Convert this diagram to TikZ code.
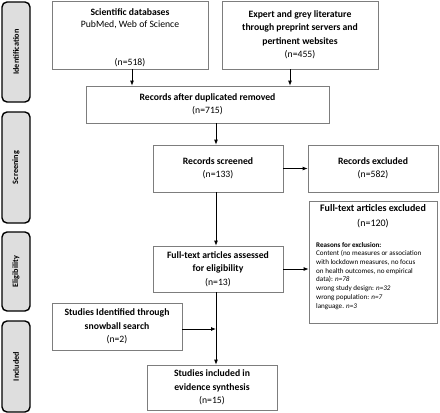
\documentclass[tikz,border=0pt]{standalone}
\usepackage{fontspec}
\setmainfont{Carlito}
\usetikzlibrary{arrows.meta,calc}
\definecolor{boxgray}{RGB}{125,125,125}
\definecolor{sidefill}{RGB}{222,222,222}
\begin{document}
\begin{tikzpicture}[x=1pt,y=1pt,
  box/.style={draw=boxgray,line width=0.8pt,fill=white,align=center,inner sep=0pt,
    font=\fontsize{9.7}{13.5}\selectfont},
  side/.style={draw=black,line width=1.4pt,fill=sidefill,rounded corners=5pt,
    minimum width=28,inner sep=0pt},
  sidelab/.style={rotate=90,font=\fontsize{8.2}{9}\selectfont\bfseries},
  arr/.style={line width=0.8pt,-{Latex[length=5pt,width=4pt]}},
  small/.style={font=\fontsize{7.1}{8.7}\selectfont,align=left,inner sep=0pt}]
\useasboundingbox (0,0) rectangle (440,-413);
% side phase boxes
\node[side,minimum height=100] (sid) at (16,-52) {};
\node[sidelab] (tid) at (sid.center) {Identification};
\node[side,minimum height=111] (ssc) at (16,-167.5) {};
\node[sidelab] (tsc) at (ssc.center) {Screening};
\node[side,minimum height=79] (sel) at (16,-271.5) {};
\node[sidelab] (tel) at (sel.center) {Eligibility};
\node[side,minimum height=91] (sin) at (16,-366.5) {};
\node[sidelab] (tin) at (sin.center) {Included};
% boxes
\node[box,minimum width=156,minimum height=68] (sci) at (130,-35) {};
\node[align=center,inner sep=0pt,anchor=north,font=\fontsize{9.7}{12}\selectfont] (scitext) at ([yshift=-8]sci.north)
  {\textbf{Scientific databases}\\PubMed, Web of Science};
\node[inner sep=0pt,font=\fontsize{9.7}{12}\selectfont] (scin) at (130,-63) {(n=518)};
\node[box,minimum width=156,minimum height=68] (expert) at (300,-35)
  {\textbf{Expert and grey literature}\\\textbf{through preprint servers and}\\\textbf{pertinent websites}\\(n=455)};
\node[box,minimum width=243,minimum height=37] (dup) at (207.5,-104.5)
  {\textbf{Records after duplicated removed}\\(n=715)};
\node[box,minimum width=130,minimum height=47] (screened) at (218,-168.5)
  {\textbf{Records screened}\\(n=133)};
\node[box,minimum width=130,minimum height=47] (excluded) at (373,-168.5)
  {\textbf{Records excluded}\\(n=582)};
\node[box,minimum width=128,minimum height=122] (ftexcl) at (373,-262) {};
\node[align=center,inner sep=0pt,anchor=north,font=\fontsize{10}{14.5}\selectfont] (fttitle) at ([yshift=-4]ftexcl.north)
  {\textbf{Full-text articles excluded}\\(n=120)};
\node[small,anchor=north west] (reasons) at (316,-242)
  {\textbf{Reasons for exclusion:}\\
   Content (no measures or association\\
   with lockdown measures, no focus\\
   on health outcomes, no empirical\\
   data): \textit{n=78}\\
   wrong study design: \textit{n=32}\\
   wrong population: \textit{n=7}\\
   language. \textit{n=3}};
\node[box,minimum width=130,minimum height=46] (assessed) at (218,-269)
  {\textbf{Full-text articles assessed}\\\textbf{for eligibility}\\(n=13)};
\node[box,minimum width=130,minimum height=47] (snowball) at (117,-326.5)
  {\textbf{Studies Identified through}\\\textbf{snowball search}\\(n=2)};
\node[box,minimum width=130,minimum height=45] (included) at (212,-387.5)
  {\textbf{Studies included in}\\\textbf{evidence synthesis}\\(n=15)};
% connectors
\draw[arr] ([xshift=2]sci.south) -- ([xshift=2]sci.south |- dup.north);
\draw[arr] ([xshift=-10]expert.south) -- ([xshift=-10]expert.south |- dup.north);
\draw[arr] ([xshift=-2]screened.north |- dup.south) -- ([xshift=-2]screened.north);
\draw[arr] (screened.east) -- (excluded.west);
\draw[arr] ([xshift=-2]screened.south) -- ([xshift=-2]assessed.north);
\draw[arr] (assessed.east) -- (assessed.east -| ftexcl.west);
\draw[arr] ([xshift=-2]assessed.south) -- ([xshift=-2]assessed.south |- included.north);
\coordinate (j) at (216,-329);
\draw[arr] (snowball.east |- j) -- (j);
\end{tikzpicture}
\end{document}
